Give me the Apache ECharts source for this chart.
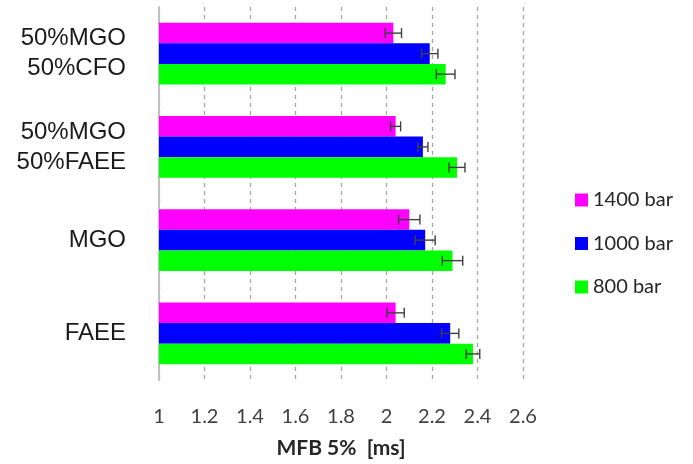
<!DOCTYPE html>
<html>
<head>
<meta charset="utf-8">
<script src="https://cdn.jsdelivr.net/npm/echarts@6/dist/echarts.min.js"></script>
<style>
  html, body { margin: 0; padding: 0; background: #fff; }
  #chart { width: 693px; height: 464px; }
</style>
</head>
<body>
<div id="chart"></div>
<script>
// Fuel blends, listed from the bottom of the chart upwards
const categories = ['FAEE', 'MGO', '50%MGO\n50%FAEE', '50%MGO\n50%CFO'];

// MFB 5% delay [ms] per injection pressure
const seriesNames = ['1400 bar', '1000 bar', '800 bar'];
const values1400 = [2.04, 2.10, 2.04, 2.03];
const values1000 = [2.28, 2.17, 2.16, 2.19];
const values800  = [2.38, 2.29, 2.31, 2.26];

// Standard deviations drawn as error bars
const err1400 = [0.038, 0.047, 0.022, 0.036];
const err1000 = [0.038, 0.044, 0.022, 0.036];
const err800  = [0.030, 0.045, 0.035, 0.041];

const xTicks = [1, 1.2, 1.4, 1.6, 1.8, 2, 2.2, 2.4, 2.6];

const colors = { '1400 bar': '#ff00ff', '1000 bar': '#0000ff', '800 bar': '#00ff00' };
const barCategoryGap = 0.34;

const seriesValues = { '1400 bar': values1400, '1000 bar': values1000, '800 bar': values800 };
const seriesErrors = { '1400 bar': err1400, '1000 bar': err1000, '800 bar': err800 };
// vertical slot inside each category band: 0 = top, 2 = bottom
const slot = { '1400 bar': 0, '1000 bar': 1, '800 bar': 2 };

function errorSeries(name) {
  const vals = seriesValues[name];
  const errs = seriesErrors[name];
  const data = categories.map((c, i) => [i, vals[i] - errs[i], vals[i] + errs[i]]);
  return {
    type: 'custom',
    name: name + ' err',
    silent: true,
    z: 5,
    data: data,
    encode: { y: 0, x: [1, 2] },
    renderItem: function (params, api) {
      const cat = api.value(0);
      const lo = api.coord([api.value(1), cat]);
      const hi = api.coord([api.value(2), cat]);
      const band = api.size([0, 1])[1];
      const bw = band * (1 - barCategoryGap) / 3;
      const y = lo[1] - 1.5 * bw + (slot[name] + 0.5) * bw;
      const cap = 5;
      const style = { stroke: '#404040', lineWidth: 1.4 };
      return {
        type: 'group',
        children: [
          { type: 'line', shape: { x1: lo[0], y1: y, x2: hi[0], y2: y }, style: style },
          { type: 'line', shape: { x1: lo[0], y1: y - cap, x2: lo[0], y2: y + cap }, style: style },
          { type: 'line', shape: { x1: hi[0], y1: y - cap, x2: hi[0], y2: y + cap }, style: style }
        ]
      };
    }
  };
}

// bar series, first one takes the top slot of each band
const barSeries = seriesNames.map(name => ({
  type: 'bar',
  name: name,
  data: seriesValues[name],
  itemStyle: { color: colors[name] },
  barGap: '0%',
  barCategoryGap: (barCategoryGap * 100) + '%',
  animation: false
}));

const chart = echarts.init(document.getElementById('chart'));
chart.setOption({
  animation: false,
  grid: { left: 159, right: 170, top: 7, bottom: 81 },
  legend: {
    data: seriesNames,
    orient: 'vertical',
    left: 570,
    top: 185,
    itemWidth: 13,
    itemHeight: 13,
    itemGap: 23.5,
    icon: 'rect',
    textStyle: { fontFamily: 'Lato', fontSize: 20, lineHeight: 20, color: '#262626' }
  },
  xAxis: {
    type: 'value',
    min: 1,
    max: 2.6,
    interval: 0.2,
    name: 'MFB 5%  [ms]',
    nameLocation: 'middle',
    nameGap: 58,
    nameTextStyle: { fontFamily: 'Lato', fontSize: 21, fontWeight: 'bold', color: '#262626' },
    axisLine: { show: false },
    axisTick: { show: false },
    axisLabel: {
      margin: 27,
      fontFamily: 'Lato',
      fontSize: 20,
      color: '#404040',
      formatter: v => {
        const t = xTicks.find(k => Math.abs(k - v) < 1e-6);
        return t === undefined ? '' : String(t);
      }
    },
    splitLine: { show: true, lineStyle: { type: [4, 4], color: '#a6a6a6', width: 1.3 } }
  },
  yAxis: {
    type: 'category',
    data: categories,
    axisLine: { show: true, lineStyle: { color: '#bfbfbf', width: 2 } },
    axisTick: { show: false },
    axisLabel: {
      margin: 33,
      fontFamily: 'Liberation Sans',
      fontSize: 24,
      lineHeight: 30,
      color: '#1a1a1a',
      align: 'right'
    },
    splitLine: { show: false }
  },
  series: barSeries.concat(seriesNames.map(errorSeries))
});
</script>
</body>
</html>
